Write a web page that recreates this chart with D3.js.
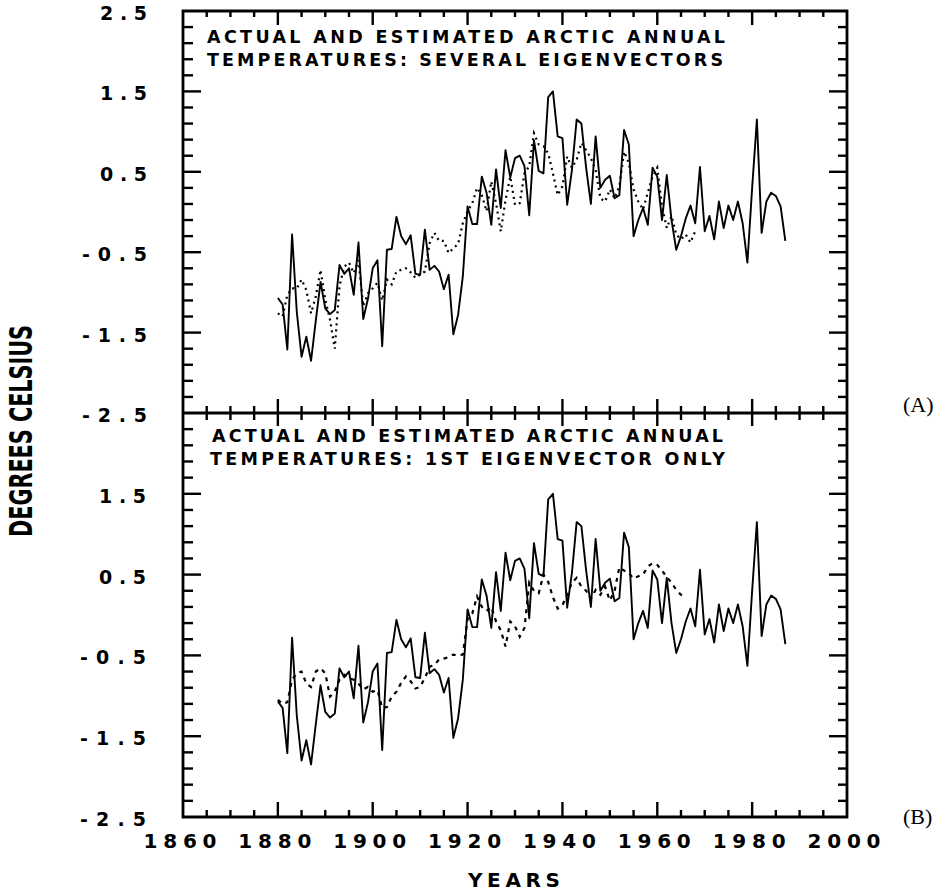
<!DOCTYPE html>
<html>
<head>
<meta charset="utf-8">
<script src="https://cdn.jsdelivr.net/npm/d3@7"></script>
<style>
  html, body { margin: 0; padding: 0; background: #fff; }
  svg { display: block; }
  .lbl { font-family: "DejaVu Sans", sans-serif; font-weight: bold; fill: #000; }
</style>
</head>
<body>
<svg id="chart" width="941" height="892"></svg>
<script>
// ---------------- DATA ----------------
const startYear = 1880;
// Actual Arctic annual temperature anomalies (°C), 1880–1987
const actual = [
  -1.07, -1.15, -1.71, -0.28, -1.25, -1.80, -1.55, -1.85, -1.35, -0.87,
  -1.20, -1.27, -1.22, -0.66, -0.77, -0.70, -1.03, -0.38, -1.33, -1.08,
  -0.70, -0.60, -1.67, -0.47, -0.46, -0.06, -0.30, -0.40, -0.29, -0.77,
  -0.78, -0.22, -0.72, -0.67, -0.74, -0.96, -0.78, -1.52, -1.28, -0.80,
   0.07, -0.15, -0.15,  0.44,  0.24, -0.16,  0.53,  0.05,  0.77,  0.43,
   0.67,  0.70,  0.57, -0.04,  0.89,  0.51,  0.48,  1.43,  1.50,  0.94,
   0.92,  0.09,  0.52,  1.15,  1.10,  0.55,  0.10,  0.94,  0.30,  0.40,
   0.45,  0.17,  0.21,  1.02,  0.84, -0.30, -0.10,  0.05, -0.16,  0.55,
   0.44, -0.10,  0.46, -0.10, -0.47, -0.30, -0.08,  0.08, -0.14,  0.56,
  -0.24, -0.05, -0.34,  0.13, -0.20,  0.08, -0.10,  0.13, -0.14, -0.63,
   0.30,  1.15, -0.26,  0.13,  0.24,  0.20,  0.07, -0.36
];
// Estimated, several eigenvectors (panel A), 1880–1968
const estSeveral = [
  -1.26, -1.30, -1.03, -0.95, -0.95, -0.84, -0.97, -1.26, -1.05, -0.72,
  -1.09, -1.34, -1.70, -0.92, -0.68, -0.63, -0.76, -0.60, -1.17, -1.01,
  -0.95, -0.88, -1.10, -0.84, -0.90, -0.74, -0.72, -0.70, -0.75, -0.82,
  -0.78, -0.74, -0.39, -0.26, -0.36, -0.36, -0.51, -0.45, -0.40, -0.14,
   0.01,  0.11,  0.30,  0.21,  0.01,  0.38,  0.11, -0.24,  0.15,  0.44,
   0.09,  0.11,  0.48,  0.57,  0.98,  0.84,  0.82,  0.73,  0.48,  0.21,
   0.32,  0.69,  0.55,  0.65,  0.86,  0.77,  0.67,  0.52,  0.17,  0.13,
   0.28,  0.17,  0.32,  0.75,  0.61,  0.28,  0.13,  0.03,  0.24,  0.44,
   0.55,  0.07, -0.20, -0.05, -0.28, -0.34, -0.28, -0.38, -0.24
];
// Estimated, 1st eigenvector only (panel B), 1880–1966
const estFirst = [
  -1.05, -1.10, -1.08, -0.80, -0.72, -0.70, -0.85, -0.89, -0.70, -0.66,
  -0.72, -1.01, -0.95, -0.80, -0.74, -0.78, -0.80, -0.85, -0.92, -0.89,
  -0.95, -0.93, -1.15, -1.14, -1.01, -0.95, -0.84, -0.76, -0.82, -0.91,
  -0.89, -0.78, -0.64, -0.62, -0.55, -0.54, -0.52, -0.49, -0.50, -0.49,
  -0.05,  0.02,  0.23,  0.10,  0.05,  0.10, -0.08, -0.19, -0.39, -0.08,
  -0.14, -0.27, -0.16,  0.40,  0.30,  0.27,  0.50,  0.41,  0.22,  0.08,
   0.12,  0.25,  0.40,  0.46,  0.35,  0.30,  0.20,  0.31,  0.25,  0.35,
   0.18,  0.30,  0.59,  0.55,  0.52,  0.45,  0.48,  0.50,  0.60,  0.64,
   0.62,  0.55,  0.47,  0.40,  0.31,  0.25,  0.22
];
const xTickLabels = ["1860", "1880", "1900", "1920", "1940", "1960", "1980", "2000"];
const xTickYears = [1865, 1870, 1875, 1880, 1885, 1890, 1895, 1900, 1905, 1910, 1915, 1920,
                    1925, 1930, 1935, 1940, 1945, 1950, 1955, 1960, 1965, 1970, 1975, 1980,
                    1985, 1990, 1995];
const yTickVals = [2.3, 2.1, 1.9, 1.7, 1.5, 1.3, 1.1, 0.9, 0.7, 0.5, 0.3, 0.1, -0.1, -0.3,
                   -0.5, -0.7, -0.9, -1.1, -1.3, -1.5, -1.7, -1.9, -2.1, -2.3];
const yTickLabelsA = ["2.5", "1.5", "0.5", "-0.5", "-1.5", "-2.5"];
const yTickLabelsB = ["1.5", "0.5", "-0.5", "-1.5", "-2.5"];
const titleA = ["ACTUAL AND ESTIMATED ARCTIC ANNUAL", "TEMPERATURES: SEVERAL EIGENVECTORS"];
const titleB = ["ACTUAL AND ESTIMATED ARCTIC ANNUAL", "TEMPERATURES: 1ST EIGENVECTOR ONLY"];
const xTitle = "YEARS";
const yTitle = "DEGREES CELSIUS";
const panelTags = ["(A)", "(B)"];

// ---------------- LAYOUT ----------------
const svg = d3.select("#chart");
const L = 183, R = 847, T = 11, M = 413, B = 817;
const x = d3.scaleLinear().domain([1860, 2000]).range([L, R]);
const yA = d3.scaleLinear().domain([-2.5, 2.5]).range([M, T]);
const yB = d3.scaleLinear().domain([-2.5, 2.5]).range([B, M]);

const toPts = (arr) => arr.map((v, i) => ({ year: startYear + i, v }));

// frame
svg.append("path")
  .attr("d", `M${L},${T}H${R}V${B}H${L}Z M${L},${M}H${R}`)
  .attr("fill", "none").attr("stroke", "#000").attr("stroke-width", 2.8);

// ---------------- LINES ----------------
const lineA = d3.line().x(d => x(d.year)).y(d => yA(d.v));
const lineB = d3.line().x(d => x(d.year)).y(d => yB(d.v));

svg.append("path").datum(toPts(estSeveral)).attr("d", lineA)
  .attr("fill", "none").attr("stroke", "#000").attr("stroke-width", 2.2)
  .attr("stroke-dasharray", "2,4");
svg.append("path").datum(toPts(actual)).attr("d", lineA)
  .attr("fill", "none").attr("stroke", "#000").attr("stroke-width", 1.9)
  .attr("stroke-linejoin", "round");

svg.append("path").datum(toPts(estFirst)).attr("d", lineB)
  .attr("fill", "none").attr("stroke", "#000").attr("stroke-width", 2.2)
  .attr("stroke-dasharray", "4,5");
svg.append("path").datum(toPts(actual)).attr("d", lineB)
  .attr("fill", "none").attr("stroke", "#000").attr("stroke-width", 1.9)
  .attr("stroke-linejoin", "round");

// ---------------- TEXT ----------------
function txt(s, xx, yy, size, len, anchor) {
  return svg.append("text").attr("class", "lbl")
    .attr("x", xx).attr("y", yy).attr("font-size", size)
    .attr("text-anchor", anchor || "start")
    .attr("textLength", len).attr("lengthAdjust", "spacing")
    .text(s);
}
txt(titleA[0], 207, 43, 17.5, 518);
txt(titleA[1], 207, 66, 17.5, 516);
txt(titleB[0], 212, 442, 17.5, 511);
txt(titleB[1], 210, 465, 17.5, 515);

yTickLabelsA.forEach((s) => {
  txt(s, 147, yA(Number(s)) + 9, 19, s.length === 3 ? 47 : 65, "end");
});
yTickLabelsB.forEach((s) => {
  txt(s, 146, yB(Number(s)) + 9, 19, s.length === 3 ? 47 : 66, "end");
});
xTickLabels.forEach((s) => {
  txt(s, x(Number(s)) - 3, 848, 20, 73, "middle");
});

txt(xTitle, 514, 887, 20, 92, "middle");
svg.append("text").attr("class", "lbl")
  .attr("transform", "translate(32,431) rotate(-90)")
  .attr("text-anchor", "middle").attr("font-size", 32)
  .attr("textLength", 212).attr("lengthAdjust", "spacingAndGlyphs")
  .text(yTitle);

svg.append("text").attr("x", 903).attr("y", 412)
  .attr("font-family", "Liberation Serif, Times New Roman, serif").attr("font-size", 22)
  .text(panelTags[0]);
svg.append("text").attr("x", 903).attr("y", 824)
  .attr("font-family", "Liberation Serif, Times New Roman, serif").attr("font-size", 22)
  .text(panelTags[1]);

// ---------------- TICKS (filled rects, drawn last) ----------------
const tw = 2.4;
const isMajorYear = (yr) => yr % 20 === 0;
const isMajorVal = (v) => Math.abs(Math.abs(v) - 0.5) < 1e-6 || Math.abs(Math.abs(v) - 1.5) < 1e-6;
const tickG = svg.append("g").attr("fill", "#000");
// top edge: down
tickG.selectAll(null).data(xTickYears).enter().append("rect")
  .attr("x", d => x(d) - tw / 2).attr("y", T)
  .attr("width", tw).attr("height", d => isMajorYear(d) ? 14 : 6);
// middle: both directions
tickG.selectAll(null).data(xTickYears).enter().append("rect")
  .attr("x", d => x(d) - tw / 2).attr("y", d => M - (isMajorYear(d) ? 14 : 7))
  .attr("width", tw).attr("height", d => isMajorYear(d) ? 27 : 14);
// bottom edge: up
tickG.selectAll(null).data(xTickYears).enter().append("rect")
  .attr("x", d => x(d) - tw / 2).attr("y", d => B - (isMajorYear(d) ? 15 : 7))
  .attr("width", tw).attr("height", d => isMajorYear(d) ? 15 : 7);
// left and right edges, both panels
[yA, yB].forEach((ys) => {
  tickG.selectAll(null).data(yTickVals).enter().append("rect")
    .attr("x", L).attr("y", d => ys(d) - tw / 2)
    .attr("width", d => isMajorVal(d) ? 18 : 10).attr("height", tw);
  tickG.selectAll(null).data(yTickVals).enter().append("rect")
    .attr("x", d => R - (isMajorVal(d) ? 18 : 9)).attr("y", d => ys(d) - tw / 2)
    .attr("width", d => isMajorVal(d) ? 18 : 9).attr("height", tw);
});
</script>
</body>
</html>
